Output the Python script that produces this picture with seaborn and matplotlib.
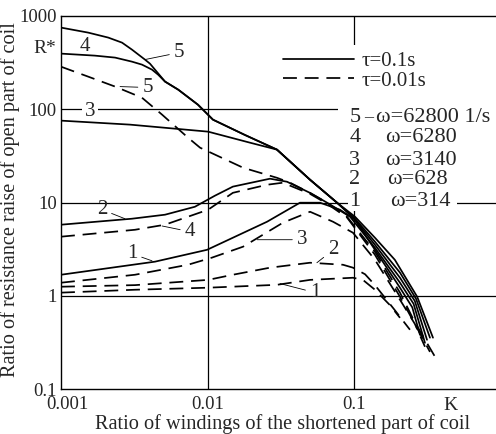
import matplotlib
matplotlib.use("Agg")
import matplotlib.pyplot as plt
import matplotlib.transforms as mtransforms
from matplotlib.patches import Rectangle
import numpy as np
import pandas as pd
import seaborn as sns

# Curves: K (ratio of windings) vs R* (resistance ratio)
# tau = 0.1 s (solid)
k_s5 = [0.001, 0.00153, 0.0021, 0.00261, 0.00305, 0.00374, 0.00405, 0.00513, 0.00632, 0.0086, 0.0109, 0.018, 0.0298, 0.050, 0.0766, 0.1016, 0.139, 0.19, 0.27, 0.346]
r_s5 = [751, 664, 587, 518, 436, 341, 308, 198, 162, 112, 77.3, 53, 36.9, 17.6, 9.95, 7.04, 4.19, 2.43, 0.975, 0.355]
k_s4 = [0.001, 0.0017, 0.00234, 0.00305, 0.00357, 0.00418, 0.0046, 0.00513, 0.00632, 0.0086, 0.0109, 0.018, 0.0298, 0.050, 0.0766, 0.1, 0.139, 0.206, 0.265, 0.33]
r_s4 = [395, 376, 358, 324, 301, 266, 235, 198, 162, 112, 77.3, 53, 36.9, 17.6, 9.95, 6.9, 3.8, 1.77, 0.93, 0.355]
k_s3 = [0.001, 0.00296, 0.0101, 0.0195, 0.0298, 0.050, 0.0766, 0.1, 0.139, 0.206, 0.26, 0.315]
r_s3 = [75.5, 68.4, 57.5, 43.8, 36.9, 17.6, 9.95, 6.7, 3.52, 1.56, 0.88, 0.337]
k_s2 = [0.001, 0.00305, 0.00513, 0.0082, 0.0112, 0.0149, 0.0267, 0.0349, 0.050, 0.0655, 0.094, 0.139, 0.206, 0.255, 0.305]
r_s2 = [5.78, 6.7, 7.4, 9.0, 11.8, 14.8, 18.0, 16.7, 12.7, 9.95, 7.04, 3.27, 1.38, 0.82, 0.313]
k_s1 = [0.001, 0.00438, 0.00993, 0.0149, 0.0255, 0.0428, 0.0586, 0.0802, 0.1016, 0.139, 0.206, 0.25, 0.282]
r_s1 = [1.68, 2.32, 3.11, 4.19, 6.22, 9.95, 9.95, 8.37, 6.54, 3.11, 1.22, 0.75, 0.381]
# tau = 0.01 s (dashed)
k_d5 = [0.001, 0.00153, 0.00234, 0.00357, 0.00489, 0.00736, 0.0089, 0.0175, 0.0298, 0.0366, 0.050, 0.0655, 0.0896, 0.139, 0.206, 0.26, 0.374]
r_d5 = [286, 224, 175, 133, 87.7, 49.6, 38.7, 23.6, 18.4, 16.3, 12.7, 9.95, 7.04, 2.96, 1.08, 0.52, 0.196]
k_d4 = [0.001, 0.0032, 0.00513, 0.0101, 0.0149, 0.0255, 0.0327, 0.050, 0.0655, 0.0896, 0.139, 0.206, 0.26, 0.33]
r_d4 = [4.3, 5.1, 5.78, 8.37, 12.7, 15.5, 16.3, 12.4, 9.7, 6.9, 2.75, 0.975, 0.5, 0.25]
k_d3 = [0.001, 0.0032, 0.00736, 0.0107, 0.0175, 0.0327, 0.0501, 0.0719, 0.0984, 0.139, 0.206, 0.26, 0.305]
r_d3 = [1.38, 1.68, 2.15, 2.56, 3.36, 6.07, 7.96, 6.22, 4.74, 2.43, 0.906, 0.5, 0.284]
k_d2 = [0.001, 0.0032, 0.0101, 0.0149, 0.0267, 0.0501, 0.0841, 0.0984, 0.119, 0.139, 0.19, 0.241]
r_d2 = [1.25, 1.3, 1.48, 1.68, 2.0, 2.26, 2.15, 2.0, 1.7, 1.3, 0.7, 0.432]
k_d1 = [0.001, 0.0032, 0.0101, 0.0298, 0.0501, 0.0984, 0.115, 0.139, 0.175, 0.206]
r_d1 = [1.08, 1.16, 1.22, 1.31, 1.48, 1.56, 1.48, 1.16, 0.8, 0.58]

tau_labels = ["τ=0.1s", "τ=0.01s"]
omega_nums = ["5", "4", "3", "2", "1"]
omega_text = ["ω=62800 1/s", "ω=6280", "ω=3140", "ω=628", "ω=314"]

x_ticks = [0.001, 0.01, 0.1, 1]
x_ticklabels = ["0.001", "0.01", "0.1", "1"]
y_ticks = [0.1, 1, 10, 100, 1000]
y_ticklabels = ["0.1", "1", "10", "100", "1000"]
grid_x = [0.01, 0.1]
grid_y = [1, 10, 100]

curves = [
    ("s5", tau_labels[0], k_s5, r_s5), ("s4", tau_labels[0], k_s4, r_s4),
    ("s3", tau_labels[0], k_s3, r_s3), ("s2", tau_labels[0], k_s2, r_s2),
    ("s1", tau_labels[0], k_s1, r_s1),
    ("d5", tau_labels[1], k_d5, r_d5), ("d4", tau_labels[1], k_d4, r_d4),
    ("d3", tau_labels[1], k_d3, r_d3), ("d2", tau_labels[1], k_d2, r_d2),
    ("d1", tau_labels[1], k_d1, r_d1),
]
df = pd.concat([pd.DataFrame({"K": k, "R": r, "curve": name, "tau": tau})
                for name, tau, k, r in curves], ignore_index=True)

sns.set_style("white")
plt.rcParams["font.family"] = ["Liberation Serif", "DejaVu Serif"]

fig = plt.figure(figsize=(4.96, 4.34), dpi=100)
ax = fig.add_axes([61/496, 45/434, 439.5/496, 373/434])

sns.lineplot(data=df, x="K", y="R", units="curve", style="tau", estimator=None,
             sort=False, color="black", linewidth=1.25,
             dashes={tau_labels[0]: "", tau_labels[1]: (8, 4.5)}, ax=ax, zorder=3)

ax.set_xscale("log"); ax.set_yscale("log")
ax.set_xlim(0.001, 1); ax.set_ylim(0.1, 1000)
ax.minorticks_off()
ax.set_xticks(x_ticks); ax.set_xticklabels(x_ticklabels)
ax.set_yticks(y_ticks); ax.set_yticklabels(y_ticklabels)
ax.tick_params(length=0, labelsize=13.5)
ax.tick_params(axis="x", pad=5)
ax.tick_params(axis="y", pad=3)
# first x label sits a little to the right of the corner
first = ax.get_xticklabels()[0]
first.set_transform(first.get_transform() + mtransforms.ScaledTranslation(6/100, 0, fig.dpi_scale_trans))
for gx in grid_x:
    ax.axvline(gx, color="black", lw=0.9, zorder=1)
for gy in grid_y:
    ax.axhline(gy, color="black", lw=0.9, zorder=1)
for s in ax.spines.values():
    s.set_color("black"); s.set_linewidth(1.0)
ax.spines["right"].set_visible(False)

ax.set_xlabel("Ratio of windings of the shortened part of coil", fontsize=14.6)
ax.xaxis.set_label_coords(0.504, -0.066)
ax.set_ylabel("Ratio of resistance raise of open part of coil", fontsize=14.6)
ax.yaxis.set_label_coords(-0.094, 0.507)

# white area behind the legend texts
ax.add_patch(Rectangle((0.630, 0.528), 0.38, 0.394, transform=ax.transAxes,
                       facecolor="white", edgecolor="none", zorder=2, clip_on=False))
ax.add_patch(Rectangle((0.653, 0.477), 0.248, 0.051, transform=ax.transAxes,
                       facecolor="white", edgecolor="none", zorder=2, clip_on=False))

handles, labels = ax.get_legend_handles_labels()
keep = [i for i, l in enumerate(labels) if l in tau_labels]
ax.legend([handles[i] for i in keep], [labels[i] for i in keep],
          loc="upper left", bbox_to_anchor=(0.505, 0.905), frameon=False,
          handlelength=3.4, handletextpad=0.35, labelspacing=0.0,
          borderpad=0, borderaxespad=0, fontsize=15)

row_y = [0.728, 0.674, 0.612, 0.561, 0.503]
text_x = [0.716, 0.737, 0.737, 0.742, 0.749]
for i in range(5):
    ax.text(0.656, row_y[i], omega_nums[i], transform=ax.transAxes, va="center",
            fontsize=16, zorder=4)
    ax.text(text_x[i], row_y[i], omega_text[i], transform=ax.transAxes, va="center",
            fontsize=16, zorder=4)
ax.text(0.689, row_y[0], "–", transform=ax.transAxes, va="center", fontsize=13, zorder=4)

# curve labels
lead = dict(arrowstyle="-", lw=0.6, color="black", shrinkA=1, shrinkB=0)
ax.annotate("5", xy=(0.00374, 341), xytext=(0.0059, 405), fontsize=15, va="center", arrowprops=lead)
ax.text(0.00146, 470, "4", fontsize=15, ha="center", va="center")
ax.annotate("5", xy=(0.00253, 175), xytext=(0.0036, 171), fontsize=15, va="center", arrowprops=lead)
ax.text(0.00158, 94, "3", fontsize=15, ha="center", va="center",
        bbox=dict(facecolor="white", edgecolor="none", pad=2), zorder=2)
ax.annotate("2", xy=(0.00273, 6.7), xytext=(0.0019, 8.4), fontsize=15, ha="center", va="center", arrowprops=lead)
ax.annotate("4", xy=(0.0049, 5.6), xytext=(0.0070, 4.86), fontsize=15, va="center", arrowprops=lead)
ax.annotate("1", xy=(0.00418, 2.37), xytext=(0.00305, 2.82), fontsize=15, ha="center", va="center", arrowprops=lead)
ax.annotate("3", xy=(0.0218, 3.99), xytext=(0.0408, 3.99), fontsize=15, va="center", arrowprops=lead)
ax.annotate("2", xy=(0.0558, 2.26), xytext=(0.0665, 3.11), fontsize=15, va="center", arrowprops=lead)
ax.annotate("1", xy=(0.0313, 1.35), xytext=(0.0501, 1.08), fontsize=15, va="center", arrowprops=lead)

ax.text(-0.036, 0.912, "R*", transform=ax.transAxes, fontsize=14, ha="center", va="center")
ax.text(0.887, -0.045, "K", transform=ax.transAxes, fontsize=14, ha="center", va="center")

fig.savefig("out.png", dpi=100)
